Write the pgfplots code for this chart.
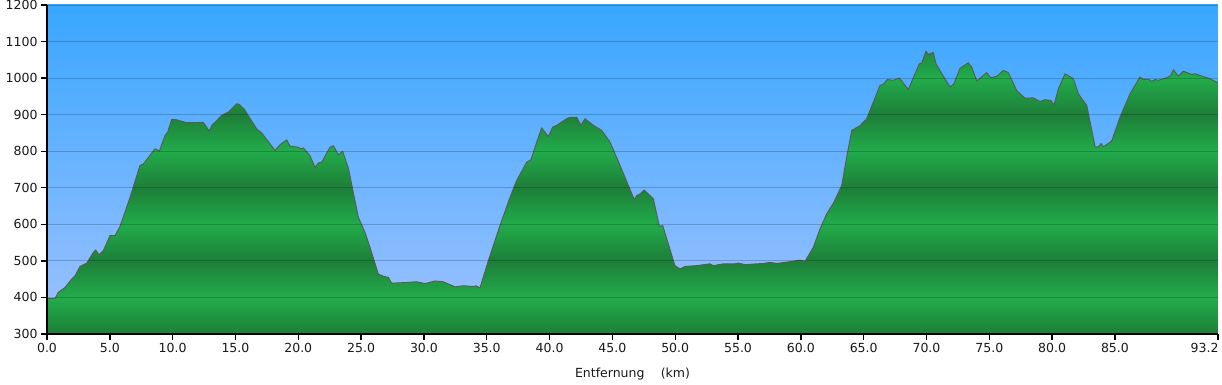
\documentclass[border=0pt]{standalone}
\usepackage{pgfplots}
\usepackage{pgfplotstable}
\pgfplotsset{compat=1.18}
\usepackage{fontspec}
\setmainfont{DejaVu Sans}
\definecolor{gd}{RGB}{29,126,56}
\definecolor{gb}{RGB}{34,172,75}
\definecolor{skytop}{RGB}{56,166,255}
\definecolor{skybot}{RGB}{160,194,255}
\pgfdeclareverticalshading{bands}{100bp}{color(0bp)=(gd); color(25bp)=(gd); color(30.556bp)=(gb); color(36.111bp)=(gd); color(41.667bp)=(gb); color(47.222bp)=(gd); color(52.778bp)=(gb); color(58.333bp)=(gd); color(63.889bp)=(gb); color(69.444bp)=(gd); color(75bp)=(gb); color(100bp)=(gb)}

\pgfplotstableread{
x y
0.00 397
0.64 397
0.90 414
1.43 427
1.96 450
2.23 459
2.63 485
3.16 494
3.69 523
3.87 530
4.14 517
4.48 528
5.01 569
5.41 569
5.81 594
6.61 674
7.40 761
7.67 765
8.60 807
8.94 800
9.39 843
9.60 852
9.92 887
10.32 886
11.12 878
12.44 879
12.92 855
13.11 870
13.90 898
14.43 907
15.10 930
15.30 928
15.68 916
16.69 861
17.09 850
18.15 802
18.55 818
19.08 831
19.34 814
20.00 811
20.14 807
20.40 809
20.93 788
21.33 756
21.60 768
21.86 770
22.53 811
22.79 815
23.19 790
23.53 800
24.00 752
24.78 619
25.31 578
25.71 537
26.37 464
26.77 458
27.17 455
27.43 439
28.63 441
29.42 443
30.09 438
30.88 445
31.54 443
32.47 429
33.14 432
33.93 430
34.15 432
34.46 426
35.12 500
36.06 597
36.85 674
37.38 720
38.18 770
38.52 777
38.98 825
39.37 864
39.90 840
40.25 866
40.57 871
41.36 889
41.63 893
42.16 893
42.50 871
42.82 889
43.48 871
44.15 857
44.81 825
45.61 761
46.75 667
46.94 679
47.20 683
47.52 694
48.26 670
48.74 594
49.00 597
49.98 487
50.38 478
50.78 485
51.71 487
52.77 492
53.03 487
53.83 492
54.76 492
55.02 494
55.56 490
57.01 493
57.55 496
58.08 493
59.14 498
59.93 502
60.33 499
60.99 537
61.52 587
62.06 629
62.59 658
63.25 706
63.65 784
64.05 857
64.71 870
65.24 889
66.30 980
66.57 983
66.88 996
67.36 994
67.84 1000
68.56 969
69.43 1039
69.62 1041
69.96 1074
70.14 1065
70.54 1070
70.76 1039
71.34 1005
71.87 976
72.19 985
72.67 1027
73.33 1042
73.60 1030
74.00 992
74.79 1015
75.11 1001
75.59 1005
76.12 1021
76.51 1015
77.18 966
77.84 945
78.50 946
79.03 936
79.43 941
79.89 939
80.15 927
80.50 971
81.03 1012
81.69 998
82.09 957
82.76 925
83.42 812
83.68 812
83.90 821
84.08 812
84.74 828
85.40 893
86.20 957
86.99 1003
87.26 996
87.66 997
87.92 991
88.19 996
88.45 994
89.12 1001
89.43 1007
89.65 1023
90.04 1005
90.44 1019
91.11 1010
91.37 1012
92.57 998
93.10 989
93.20 988
}\profile

\pgfplotstableread{
x y
93.20 300
0.00 300
0.00 1200
}\extrapts

\pgfplotstablevertcat{\filltab}{\profile}
\pgfplotstablevertcat{\filltab}{\extrapts}

\begin{document}
\begin{tikzpicture}
\useasboundingbox (-47pt,-51pt) rectangle (1175pt,334pt);
\begin{axis}[
  at={(0pt,0pt)}, anchor=south west,
  scale only axis, width=1171pt, height=329pt,
  xmin=0, xmax=93.2, ymin=300, ymax=1200,
  axis x line=bottom, axis y line=left,
  axis line style={-, black, line width=1.5pt},
  every outer x axis line/.append style={-},
  every outer y axis line/.append style={-},
  axis on top,
  axis background/.style={top color=skytop, bottom color=skybot},
  no markers,
  /pgf/number format/assume math mode=true,
  tick label style={font=\fontsize{12.5}{14}\selectfont, text=black!90},
  xtick={0,5,...,85},
  xticklabel style={/pgf/number format/fixed, /pgf/number format/fixed zerofill, /pgf/number format/precision=1},
  extra x ticks={93.2},
  extra x tick style={xticklabel style={anchor=north east, xshift=4pt}},
  ytick={300,400,...,1200},
  yticklabel style={/pgf/number format/fixed, /pgf/number format/precision=0, /pgf/number format/1000 sep={}},
  ymajorgrids,
  grid style={black, opacity=0.2, line width=0.9pt},
  major tick length=6pt,
  tick style={black, line width=1.4pt},
  tick align=outside,
  xlabel={Entfernung\hspace{1.3em}(km)},
  xlabel style={font=\fontsize{12.5}{14}\selectfont, text=black!90, yshift=4pt},
]
\addplot[draw=none, shade, shading=bands] table {\filltab};
\addplot[color=black!65, line width=0.9pt, line join=round] table {\profile};
\end{axis}
\end{tikzpicture}
\end{document}
